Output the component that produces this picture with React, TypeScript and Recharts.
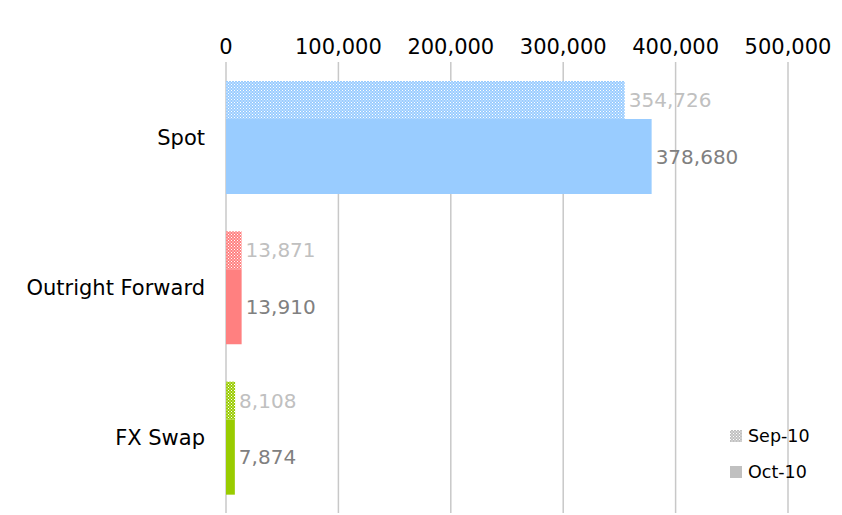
import React from "react";
import { BarChart, Bar, XAxis, YAxis, CartesianGrid, LabelList, Cell } from "recharts";

const categories = ["Spot", "Outright Forward", "FX Swap"];
const sep10 = [354726, 13871, 8108];
const oct10 = [378680, 13910, 7874];
const xTicks = [0, 100000, 200000, 300000, 400000, 500000];
const seriesNames = ["Sep-10", "Oct-10"];
const catColors = ["#99CCFF", "#FF8080", "#99CC00"];
const patternIds = ["patBlue", "patRed", "patGreen"];

const data = categories.map((c, i) => ({ name: c, sep: sep10[i], oct: oct10[i] }));

const FONT = "'DejaVu Sans', Verdana, sans-serif";
const fmt = (v: any) => Number(v).toLocaleString("en-US");

const Pattern = ({ id, color }: { id: string; color: string }) => (
  <pattern id={id} x="0" y="0" width="3" height="3" patternUnits="userSpaceOnUse">
    <rect x="0" y="0" width="3" height="3" fill={color} />
    <rect x="0" y="0" width="1" height="1" fill="#ffffff" />
    <rect x="1.5" y="1.5" width="1" height="1" fill="#ffffff" />
  </pattern>
);

export default function App() {
  return (
    <div style={{ position: "absolute", left: 0, top: 0, width: 842, height: 515, background: "#fff" }}>
      <BarChart
        width={842}
        height={515}
        data={data}
        layout="vertical"
        margin={{ top: 0, right: 54, bottom: 2, left: 0 }}
        barGap={0}
        barCategoryGap={0}
      >
        <defs>
          {patternIds.map((id, i) => (
            <Pattern key={id} id={id} color={catColors[i]} />
          ))}
        </defs>
        <CartesianGrid horizontal={false} stroke="#C8C8C8" strokeWidth={1.5} />
        <XAxis
          type="number"
          orientation="top"
          domain={[0, 500000]}
          ticks={xTicks}
          tickFormatter={fmt}
          axisLine={false}
          tickLine={false}
          tickSize={0}
          tickMargin={8}
          height={62}
          tick={{ fill: "#000", fontSize: 21, fontFamily: FONT }}
          interval={0}
        />
        <YAxis
          type="category"
          dataKey="name"
          width={226}
          axisLine={false}
          tickLine={false}
          tickSize={0}
          tickMargin={21}
          tick={{ fill: "#000", fontSize: 21, fontFamily: FONT }}
          interval={0}
        />
        <Bar dataKey="sep" name={seriesNames[0]} barSize={38} isAnimationActive={false}>
          {data.map((d, i) => (
            <Cell key={d.name} fill={`url(#${patternIds[i]})`} />
          ))}
          <LabelList dataKey="sep" position="right" offset={4} formatter={fmt} fill="#C0C0C0" fontSize={20} fontFamily={FONT} />
        </Bar>
        <Bar dataKey="oct" name={seriesNames[1]} barSize={75} isAnimationActive={false}>
          {data.map((d, i) => (
            <Cell key={d.name} fill={catColors[i]} />
          ))}
          <LabelList dataKey="oct" position="right" offset={4} formatter={fmt} fill="#808080" fontSize={20} fontFamily={FONT} />
        </Bar>
      </BarChart>
      <div style={{ position: "absolute", left: 730, top: 418, fontFamily: FONT, fontSize: 17.5, color: "#000" }}>
        {seriesNames.map((n, i) => (
          <div key={n} style={{ display: "flex", alignItems: "center", height: 36 }}>
            <svg width={12} height={12} style={{ marginRight: 6 }}>
              <defs>
                <pattern id={"legPat" + i} x="0" y="0" width="3" height="3" patternUnits="userSpaceOnUse">
                  <rect x="0" y="0" width="3" height="3" fill="#C0C0C0" />
                  <rect x="0" y="0" width="1" height="1" fill="#ffffff" />
                  <rect x="1.5" y="1.5" width="1" height="1" fill="#ffffff" />
                </pattern>
              </defs>
              <rect x={0} y={0} width={12} height={12} fill={i === 0 ? "url(#legPat0)" : "#C0C0C0"} />
            </svg>
            <span>{n}</span>
          </div>
        ))}
      </div>
    </div>
  );
}
